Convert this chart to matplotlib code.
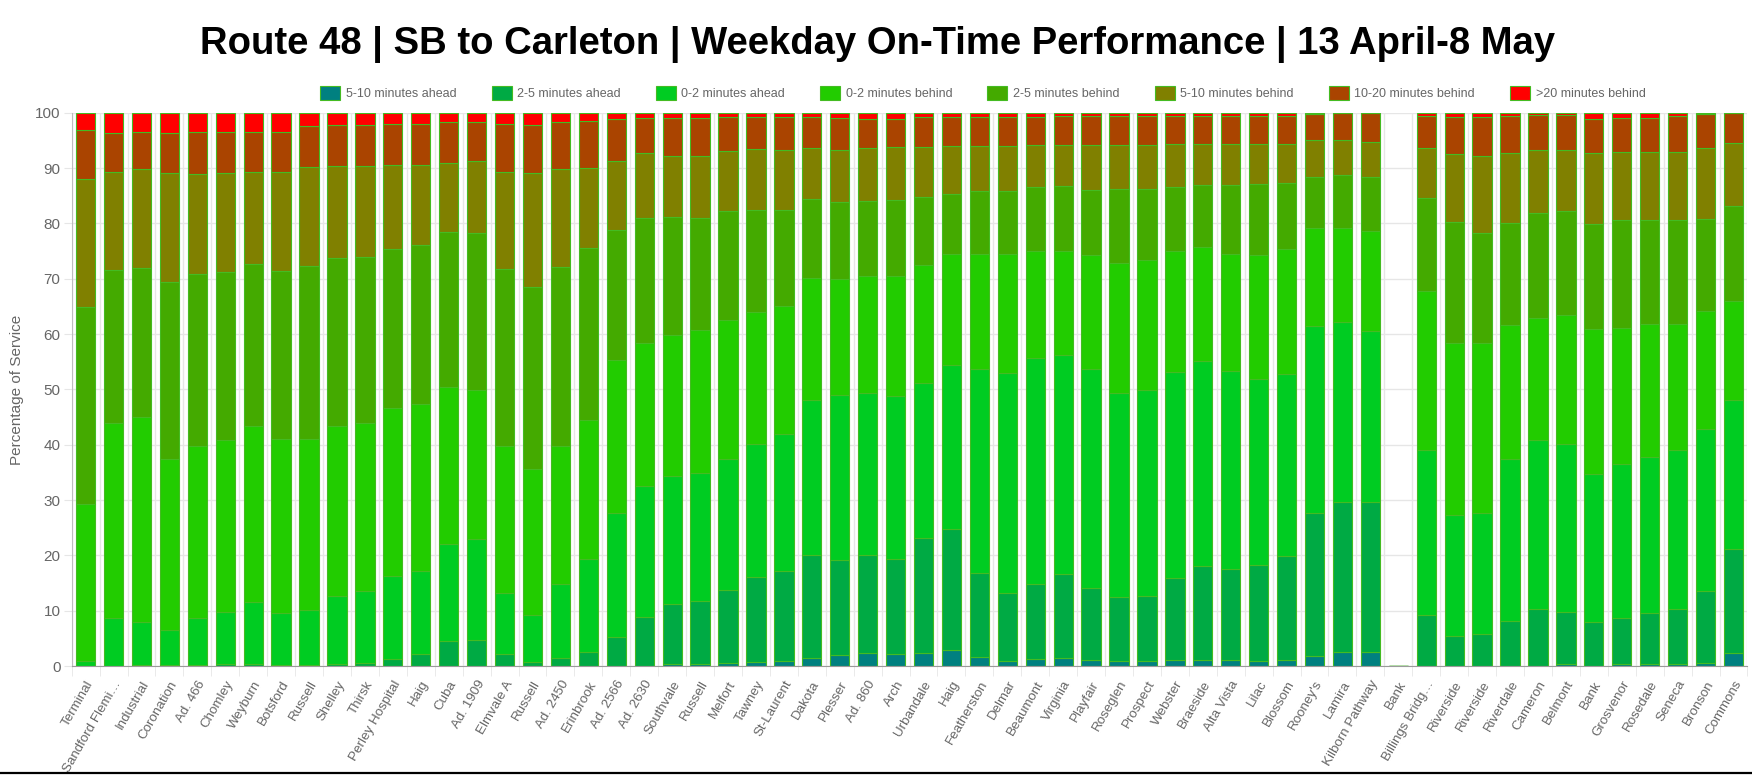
"""
plot.py
Route 48 SB to Carleton - weekday on-time performance, stacked bars per stop.
"""

import numpy as np
import matplotlib
matplotlib.use("Agg")
import matplotlib.pyplot as plt
from matplotlib.patches import Patch
from matplotlib.lines import Line2D

stops = [
    "Terminal", "Sandford Flemi…", "Industrial", "Coronation", "Ad. 466", "Chomley",
    "Weyburn", "Botsford", "Russell", "Shelley", "Thirsk", "Perley Hospital", "Haig",
    "Cuba", "Ad. 1909", "Elmvale A", "Russell", "Ad. 2450", "Erinbrook", "Ad. 2566",
    "Ad. 2630", "Southvale", "Russell", "Melfort", "Tawney", "St-Laurent", "Dakota",
    "Plesser", "Ad. 860", "Arch", "Urbandale", "Haig", "Featherston", "Delmar",
    "Beaumont", "Virginia", "Playfair", "Roseglen", "Prospect", "Webster", "Braeside",
    "Alta Vista", "Lilac", "Blossom", "Rooney's", "Lamira", "Kilborn Pathway", "Bank",
    "Billings Bridg…", "Riverside", "Riverside", "Riverdale", "Cameron", "Belmont",
    "Bank", "Grosvenor", "Rosedale", "Seneca", "Bronson", "Commons",
]

# percentage of trips per lateness band, one value per stop
ahead_5_10 = [
    0, 0, 0, 0, 0, 0, 0, 0, 0, 0, 0, 0, 0, 0, 0, 0, 0, 0, 0, 0,
    0, 0.3, 0.3, 0.5, 0.7, 1.0, 1.5, 2.0, 2.3, 2.1, 2.4, 2.9, 1.7, 1.0, 1.3, 1.5, 1.1, 1.0, 1.0, 1.1,
    1.1, 1.1, 1.0, 1.1, 1.9, 2.5, 2.5, 0, 0, 0, 0, 0, 0, 0.4, 0, 0.4, 0.4, 0.4, 0.5, 2.4,
]
ahead_2_5 = [
    0, 0, 0.1, 0.2, 0.2, 0.3, 0.3, 0.2, 0.2, 0.4, 0.6, 1.3, 2.2, 4.6, 4.7, 2.1, 0.7, 1.5, 2.6, 5.2,
    8.8, 10.9, 11.5, 13.2, 15.4, 16.1, 18.5, 17.2, 17.8, 17.3, 20.7, 21.9, 15.1, 12.2, 13.5, 15.2, 13.0, 11.4, 11.6, 14.9,
    17.0, 16.5, 17.2, 18.7, 25.8, 27.1, 27.1, 0, 9.2, 5.4, 5.7, 8.1, 10.3, 9.3, 7.9, 8.2, 9.1, 9.9, 13.1, 18.8,
]
ahead_0_2 = [
    0.9, 8.6, 7.9, 6.4, 8.4, 9.4, 11.3, 9.4, 9.9, 12.2, 13.0, 14.9, 14.9, 17.5, 18.3, 11.1, 8.6, 13.4, 16.8, 22.5,
    23.8, 23.2, 23.1, 23.8, 24.1, 24.8, 28.1, 29.7, 29.3, 29.4, 28.0, 29.6, 36.8, 39.7, 40.8, 39.5, 39.5, 37.0, 37.3, 37.1,
    37.0, 35.7, 33.7, 32.9, 33.7, 32.6, 30.9, 0, 29.8, 21.9, 21.9, 29.4, 30.5, 30.5, 26.8, 27.9, 28.2, 28.7, 29.3, 26.9,
]
behind_0_2 = [
    28.4, 35.4, 37.0, 30.8, 31.1, 31.2, 31.8, 31.4, 30.9, 30.7, 30.4, 30.4, 30.3, 28.3, 26.9, 26.5, 26.4, 24.8, 25.0, 27.6,
    25.7, 25.5, 25.8, 25.1, 23.7, 23.2, 22.1, 21.0, 21.1, 21.7, 21.3, 20.0, 20.9, 21.6, 19.5, 18.9, 20.7, 23.5, 23.5, 22.0,
    20.7, 21.1, 22.4, 22.7, 17.8, 17.0, 18.1, 0, 28.8, 31.0, 30.8, 24.2, 22.1, 23.2, 26.2, 24.6, 24.2, 22.9, 21.2, 17.8,
]
behind_2_5 = [
    35.6, 27.6, 26.9, 32.0, 31.1, 30.3, 29.2, 30.4, 31.3, 30.4, 29.9, 28.7, 28.7, 28.0, 28.3, 32.0, 32.8, 32.4, 31.1, 23.5,
    22.7, 21.2, 20.3, 19.6, 18.5, 17.3, 14.3, 13.9, 13.5, 13.7, 12.3, 10.9, 11.4, 11.4, 11.4, 11.6, 11.8, 13.4, 12.9, 11.4,
    11.1, 12.6, 12.8, 11.9, 9.1, 9.6, 9.7, 0, 16.8, 21.9, 19.9, 18.3, 19.0, 18.8, 19.0, 19.5, 18.7, 18.8, 16.7, 17.2,
]
behind_5_10 = [
    23.2, 17.7, 18.0, 19.7, 18.1, 17.9, 16.7, 17.9, 17.9, 16.6, 16.4, 15.2, 14.5, 12.6, 13.0, 17.6, 20.6, 17.7, 14.5, 12.5,
    11.7, 11.1, 11.2, 10.8, 11.0, 10.9, 9.2, 9.5, 9.6, 9.6, 9.1, 8.7, 8.1, 8.1, 7.7, 7.5, 8.1, 7.8, 7.8, 7.9,
    7.5, 7.4, 7.3, 7.1, 6.7, 6.2, 6.5, 0, 9.1, 12.4, 13.9, 12.8, 11.3, 11.0, 12.8, 12.3, 12.3, 12.2, 12.8, 11.5,
]
behind_10_20 = [
    8.7, 7.0, 6.6, 7.3, 7.6, 7.5, 7.3, 7.3, 7.4, 7.4, 7.4, 7.4, 7.4, 7.3, 7.2, 8.6, 8.6, 8.5, 8.5, 7.6,
    6.4, 6.9, 6.9, 6.2, 5.8, 5.9, 5.5, 5.8, 5.3, 5.1, 5.4, 5.3, 5.3, 5.3, 5.1, 5.3, 5.3, 5.4, 5.4, 5.1,
    5.1, 5.1, 5.1, 5.1, 4.8, 5.0, 5.2, 0, 5.7, 6.7, 7.1, 6.7, 6.4, 6.4, 6.2, 6.2, 6.2, 6.6, 6.1, 5.4,
]
behind_20 = [
    3.2, 3.7, 3.5, 3.6, 3.5, 3.4, 3.4, 3.4, 2.4, 2.3, 2.3, 2.1, 2.0, 1.7, 1.6, 2.1, 2.3, 1.7, 1.5, 1.1,
    0.9, 0.9, 0.9, 0.8, 0.8, 0.8, 0.8, 0.9, 1.1, 1.1, 0.8, 0.7, 0.7, 0.7, 0.7, 0.5, 0.5, 0.5, 0.5, 0.5,
    0.5, 0.5, 0.5, 0.5, 0.2, 0, 0, 0, 0.6, 0.7, 0.7, 0.5, 0.4, 0.4, 1.1, 0.9, 0.9, 0.5, 0.3, 0,
]

series = [
    ("5-10 minutes ahead", ahead_5_10, "#008080"),
    ("2-5 minutes ahead", ahead_2_5, "#00aa44"),
    ("0-2 minutes ahead", ahead_0_2, "#00cc22"),
    ("0-2 minutes behind", behind_0_2, "#22cc00"),
    ("2-5 minutes behind", behind_2_5, "#44aa00"),
    ("5-10 minutes behind", behind_5_10, "#808000"),
    ("10-20 minutes behind", behind_10_20, "#aa4400"),
    (">20 minutes behind", behind_20, "#ff0000"),
]

TEXT = "#666666"
GRID = "#e6e6e6"
EDGE = "#44bb22"

plt.rcParams["font.family"] = ["Liberation Sans", "DejaVu Sans"]

fig = plt.figure(figsize=(17.52, 7.75), dpi=100)
ax = fig.add_axes([0.0409, 0.1406, 0.9565, 0.7139])

x = np.arange(len(stops))
bottom = np.zeros(len(stops))
for name, vals, color in series:
    vals = np.array(vals, dtype=float)
    ax.bar(x, vals, width=0.69, bottom=bottom, color=color, edgecolor=EDGE,
           linewidth=0.8, zorder=3)
    bottom += vals

ax.set_xlim(-0.5, len(stops) - 0.5)
ax.set_ylim(0, 100)
ax.set_yticks(range(0, 101, 10))
ax.tick_params(axis="y", length=6, color=GRID, labelsize=11, labelcolor=TEXT, pad=2)
ax.set_ylabel("Percentage of Service", color=TEXT, fontsize=11, labelpad=8)

ax.set_xticks(x)
ax.set_xticklabels(stops, rotation=60, ha="right", rotation_mode="anchor",
                   fontsize=9.6, color=TEXT)
ax.tick_params(axis="x", which="major", length=0, pad=9)
ax.set_xticks(np.arange(-0.5, len(stops)), minor=True)
ax.tick_params(axis="x", which="minor", length=7, color=GRID)

ax.grid(axis="y", color=GRID, linewidth=1, zorder=0)
ax.grid(axis="x", which="minor", color=GRID, linewidth=1, zorder=0)

for side in ("top", "right"):
    ax.spines[side].set_visible(False)
ax.spines["left"].set_color("#bdbdbd")
ax.spines["bottom"].set_color("#9a9a9a")
ax.spines["left"].set_zorder(4)
ax.spines["bottom"].set_zorder(4)

handles = [Patch(facecolor=c, edgecolor=EDGE, linewidth=0.8, label=n) for n, _, c in series]
leg = fig.legend(handles=handles, loc="center", bbox_to_anchor=(0.561, 0.880), ncol=8,
                 frameon=False, fontsize=9, handlelength=1.6, handleheight=1.3,
                 handletextpad=0.45, columnspacing=2.8)
for t in leg.get_texts():
    t.set_color(TEXT)

fig.text(0.501, 0.942, "Route 48 | SB to Carleton | Weekday On-Time Performance | 13 April-8 May",
         ha="center", va="center", fontsize=27.5, fontweight="bold",
         family=["Liberation Sans Narrow", "Liberation Sans", "DejaVu Sans"])

fig.add_artist(Line2D([0, 1], [0.0025, 0.0025], transform=fig.transFigure,
                      color="black", linewidth=1.6))

fig.savefig("out.png", dpi=100)
